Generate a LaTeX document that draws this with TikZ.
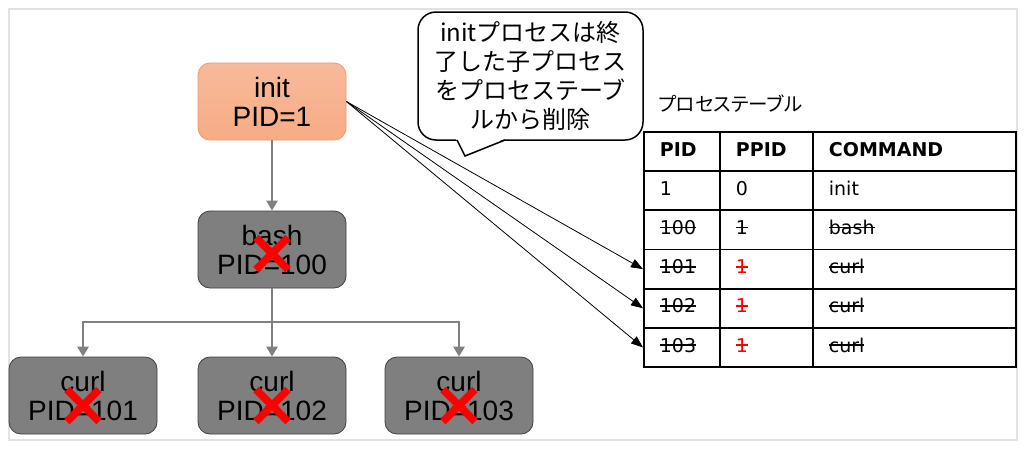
\documentclass[tikz,border=0pt]{standalone}
\usepackage{fontspec}
\setmainfont{Liberation Sans}
\newfontfamily\jpfont{Noto Sans CJK JP}
\newfontfamily\jppfont[RawFeature=+palt]{Noto Sans CJK JP}
\newfontfamily\tbfont{DejaVu Sans}
\usetikzlibrary{arrows.meta,calc}
\definecolor{initfill}{HTML}{F6AE8A}
\definecolor{initdraw}{HTML}{EE9A70}
\definecolor{procgray}{HTML}{7F7F7F}
\definecolor{procdraw}{HTML}{404040}
\definecolor{conngray}{HTML}{808080}
\definecolor{framegray}{HTML}{E2E2E2}
\newcommand\strk[1]{\setbox0\hbox{#1}\rlap{\rule[0.32em]{\wd0}{0.09em}}\box0}
\tikzset{
  proc/.style={rounded corners=12, minimum width=148, minimum height=77, align=center,
    font=\fontsize{28}{29}\selectfont, inner sep=0, line width=0.8},
  deadproc/.style={proc, fill=procgray, draw=procdraw},
  initproc/.style={proc, top color=initfill!85!white, bottom color=initfill!95!orange, draw=initdraw},
  gconn/.style={draw=conngray, line width=2.8},
  garrow/.style={gconn, -{Triangle[length=10,width=11]}},
  karrow/.style={draw=black, line width=0.8, -{Triangle[length=12,width=9]}},
  cell/.style={draw=black, line width=1.8, anchor=north west, minimum height=39.2, inner xsep=16,
    inner ysep=0, align=left, text height=1em, text depth=0.1em, font=\tbfont\fontsize{19}{20}\selectfont},
  cellA/.style={cell, text width=44},
  cellB/.style={cell, text width=61},
  cellC/.style={cell, text width=171},
  redx/.style={draw=red, line width=7.5},
}
\begin{document}
\begin{tikzpicture}[x=1pt,y=-1pt]
\useasboundingbox (0,0) rectangle (1027,453);
\fill[white] (0,0) rectangle (1027,453);
\draw[framegray, line width=1.5] (9,9) rectangle (1017,440);

% process tree
\node[initproc] (init) at (272,101.5) {init\\PID=1};
\node[deadproc] (bash) at (272,249.5) {bash\\PID=100};
\node[deadproc] (c1) at (83,395.5) {curl\\PID=101};
\node[deadproc] (c2) at (272,395.5) {curl\\PID=102};
\node[deadproc] (c3) at (459,395.5) {curl\\PID=103};

\draw[garrow] (init.south) -- (bash.north);
\coordinate (split) at (272,322);
\draw[gconn] (bash.south) -- (split);
\draw[garrow] (split) -| (c1.north);
\draw[garrow] (split) -- (c2.north);
\draw[garrow] (split) -| (c3.north);

% red crosses
\foreach \n/\dy in {bash/4, c1/10, c2/10, c3/10}{
  \draw[redx] ($(\n.center)+(-16,\dy-16)$) -- ($(\n.center)+(16,\dy+16)$);
  \draw[redx] ($(\n.center)+(16,\dy-16)$) -- ($(\n.center)+(-16,\dy+16)$);
}

% table
\node[anchor=west, inner sep=0, font=\jppfont\fontsize{19.5}{21}\selectfont] (ttl) at (658,104) {プロセステーブル};
\foreach \r/\a/\b/\c [count=\i from 0] in {
  {\textbf{PID}}/{\textbf{PPID}}/{\textbf{COMMAND}},
  1/0/init,
  {\strk{100}}/{\strk{1}}/{\strk{bash}},
  {\strk{101}}/{\color{red}\strk{1}}/{\strk{curl}},
  {\strk{102}}/{\color{red}\strk{1}}/{\strk{curl}},
  {\strk{103}}/{\color{red}\strk{1}}/{\strk{curl}}}{
  \node[cellA] (r\i a) at (643,{131+39.2*\i}) {\r};
  \node[cellB] (r\i b) at (719,{131+39.2*\i}) {\a};
  \node[cellC] (r\i c) at (812,{131+39.2*\i}) {\b};
}

% callout
\node[draw=black, line width=1.5, fill=white, rounded corners=18, minimum width=225, minimum height=128,
  inner sep=0, align=center, font=\jpfont\fontsize{24}{29}\selectfont] (note) at (530.5,76)
  {initプロセスは終\\了した子プロセス\\をプロセステーブ\\ルから削除};
\coordinate (tip) at (465,156);
\fill[white] (455.5,138) -- (tip) -- (506.5,138) -- cycle;
\draw[black, line width=1.5] (457,140) -- (tip) -- (505,140);

% arrows from init to table rows
\draw[karrow] (init.east) -- (r3a.west);
\draw[karrow] (init.east) -- (r4a.west);
\draw[karrow] (init.east) -- (r5a.west);
\end{tikzpicture}
\end{document}
